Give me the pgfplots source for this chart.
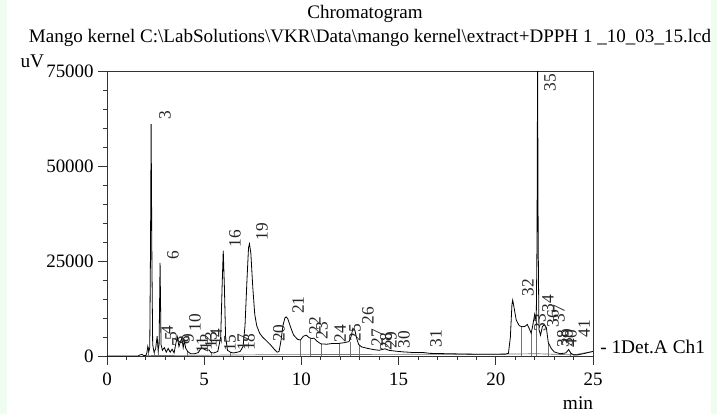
\documentclass[border=0pt]{standalone}
\usepackage{pgfplots}
\pgfplotsset{compat=1.18}
\usepackage{fontspec}
\setmainfont{Liberation Serif}
\definecolor{pagegreen}{RGB}{238,253,238}
\tikzset{lbl/.style={rotate=90, anchor=center, inner sep=0pt, text=black!85,
                font=\fontsize{13}{14}\selectfont}}

\begin{document}
\begin{tikzpicture}
% page: 717x414 px at 0.75pt per px, axis box at px (107,71)-(593,356)
\fill[pagegreen] (-80.25pt,-43.5pt) rectangle (457.5pt,267pt);
\fill[white] (-75pt,-43.5pt) rectangle (453pt,267pt);

\begin{axis}[
    at={(0,0)}, anchor=south west,
    scale only axis,
    width=364.5pt, height=213.75pt,
    xmin=0, xmax=25, ymin=0, ymax=75000,
    xtick={0,5,10,15,20,25},
    ytick={0,25000,50000,75000},
    minor x tick num=4, minor y tick num=4,
    tick pos=left, tick align=outside,
    major tick length=6.5pt, minor tick length=3pt,
    axis line style={black!80, line width=0.7pt},
    every tick/.style={black!80, line width=0.6pt},
    scaled y ticks=false,
    /pgf/number format/.cd, 1000 sep={}, assume math mode=true,
    /pgfplots/.cd,
    tick label style={font=\fontsize{14.2}{16}\selectfont},
    xticklabel style={yshift=-3pt},
]
% integration baseline
\addplot[black!55, line width=0.5pt] coordinates {
  (2.0,100) (8.8,350) (16.0,450) (20.6,500) (22.1,600) (24.0,300) (25.0,1200)
};
% drop lines
\addplot[black!55, line width=0.5pt, ycomb, mark=none] coordinates {
  (2.12,2400) (2.42,1000) (2.63,1500) (4.15,1200) (5.35,900) (6.35,1000)
  (9.95,4200) (10.45,4700) (11.0,3200) (11.95,3300) (12.5,3800) (13.0,2800)
  (21.3,7800) (21.82,6000) (22.08,9000) (22.7,3500) (23.85,800)
};
% chromatogram trace
\addplot[black, line width=0.6pt] coordinates {
  (0,0) (1.6,0) (1.7,300) (1.8,400) (1.9,100) (2.0,150) (2.05,800) (2.1,2500)
  (2.15,1200) (2.2,2200) (2.24,30000) (2.27,61000) (2.31,25000) (2.35,3000)
  (2.42,1000) (2.5,1800) (2.58,5200) (2.63,1500) (2.68,3000) (2.73,24500)
  (2.78,3000) (2.85,1500) (2.95,2200) (3.05,1000) (3.15,2000) (3.25,1000)
  (3.35,1800) (3.45,800) (3.55,3500) (3.62,5000) (3.7,2500) (3.78,3800)
  (3.85,4700) (3.92,2200) (3.98,4000) (4.05,2000) (4.15,1200) (4.3,600)
  (4.5,600) (4.7,900) (4.85,2200) (5.0,1800) (5.1,1500) (5.25,1600)
  (5.35,900) (5.5,800) (5.7,1200) (5.85,5000) (5.92,18000) (5.98,27700)
  (6.04,18000) (6.1,5000) (6.2,1500) (6.35,1000) (6.5,800) (6.7,1000)
  (6.85,1200) (7.0,2500) (7.1,8000) (7.2,20000) (7.28,28500) (7.33,29500)
  (7.4,27000) (7.5,18000) (7.6,11000) (7.7,8000) (7.85,6000) (8.0,5000)
  (8.2,4000) (8.4,3000) (8.6,1800) (8.75,1000) (8.85,1200) (8.95,4000)
  (9.05,8000) (9.15,10000) (9.22,10300) (9.3,9800) (9.45,7500) (9.6,5500)
  (9.8,4400) (9.95,4200) (10.1,5200) (10.25,5500) (10.4,4800) (10.55,4600)
  (10.65,4700) (10.8,3900) (11.0,3200) (11.3,3100) (11.6,3300) (11.9,3300)
  (12.2,3500) (12.45,3800) (12.55,5000) (12.65,7300) (12.75,6800)
  (12.85,4500) (12.95,3000) (13.1,2400) (13.4,2000) (13.7,1700) (14.0,1500)
  (14.3,1900) (14.5,1500) (14.8,1300) (15.2,1100) (15.8,900) (16.3,900)
  (16.6,700) (17.5,600) (18.5,500) (19.5,450) (20.5,500) (20.65,700)
  (20.75,5000) (20.83,13500) (20.87,14700) (20.93,13000) (21.05,9500)
  (21.2,8000) (21.35,7700) (21.5,7800) (21.62,8300) (21.72,7200)
  (21.82,6000) (21.9,8000) (22.0,11000) (22.08,9000) (22.12,30000)
  (22.15,78000) (22.18,30000) (22.22,7000) (22.3,5500) (22.4,7800)
  (22.5,8200) (22.6,7500) (22.7,3500) (22.85,2000) (23.0,1100) (23.3,600)
  (23.6,800) (23.75,1700) (23.85,800) (24.0,300) (24.2,300) (24.5,600)
  (25.0,1200)
};
% peak numbers
\node[lbl] at (axis cs:2.98,63430) {3};
\node[lbl] at (axis cs:3.09,6840) {4};
\node[lbl] at (axis cs:3.29,5260) {5};
\node[lbl] at (axis cs:3.40,26580) {6};
\node[lbl] at (axis cs:3.65,3685) {7};
\node[lbl] at (axis cs:3.96,4210) {8};
\node[lbl] at (axis cs:4.17,4740) {9};
\node[lbl] at (axis cs:4.53,8690) {10};
\node[lbl] at (axis cs:4.89,2900) {11};
\node[lbl] at (axis cs:5.09,3685) {12};
\node[lbl] at (axis cs:5.35,4210) {13};
\node[lbl] at (axis cs:5.61,5000) {14};
\node[lbl] at (axis cs:6.33,3420) {15};
\node[lbl] at (axis cs:6.58,30800) {16};
\node[lbl] at (axis cs:7.00,3685) {17};
\node[lbl] at (axis cs:7.30,3685) {18};
\node[lbl] at (axis cs:7.97,32640) {19};
\node[lbl] at (axis cs:8.85,6050) {20};
\node[lbl] at (axis cs:9.83,13420) {21};
\node[lbl] at (axis cs:10.70,8030) {22};
\node[lbl] at (axis cs:11.06,6710) {23};
\node[lbl] at (axis cs:11.99,5920) {24};
\node[lbl] at (axis cs:12.76,6185) {25};
\node[lbl] at (axis cs:13.43,10660) {26};
\node[lbl] at (axis cs:13.89,4870) {27};
\node[lbl] at (axis cs:14.35,3820) {28};
\node[lbl] at (axis cs:14.61,4210) {29};
\node[lbl] at (axis cs:15.28,4340) {30};
\node[lbl] at (axis cs:16.92,4600) {31};
\node[lbl] at (axis cs:21.66,18030) {32};
\node[lbl] at (axis cs:22.27,8820) {33};
\node[lbl] at (axis cs:22.68,13820) {34};
\node[lbl] at (axis cs:22.79,71990) {35};
\node[lbl] at (axis cs:22.94,9870) {36};
\node[lbl] at (axis cs:23.25,11190) {37};
\node[lbl] at (axis cs:23.46,4600) {38};
\node[lbl] at (axis cs:23.66,4870) {39};
\node[lbl] at (axis cs:23.87,4600) {40};
\node[lbl] at (axis cs:24.54,7240) {41};
\end{axis}

% titles and side labels
\node[font=\fontsize{14.3}{16}\selectfont] at (193.5pt,256.5pt) {Chromatogram};
\node[font=\fontsize{14.3}{16}\selectfont] at (197.25pt,238.5pt)
  {Mango kernel C:\textbackslash LabSolutions\textbackslash VKR\textbackslash Data\textbackslash mango kernel\textbackslash extract+DPPH 1 \_10\_03\_15.lcd};
\node[font=\fontsize{14.5}{16}\selectfont] at (-56pt,221pt) {uV};
\node[font=\fontsize{14.5}{16}\selectfont] at (353.25pt,-35.25pt) {min};
\node[font=\fontsize{14.5}{16}\selectfont, anchor=west, inner sep=0pt] at (369.75pt,6.75pt) {- 1Det.A Ch1};
\end{tikzpicture}
\end{document}
